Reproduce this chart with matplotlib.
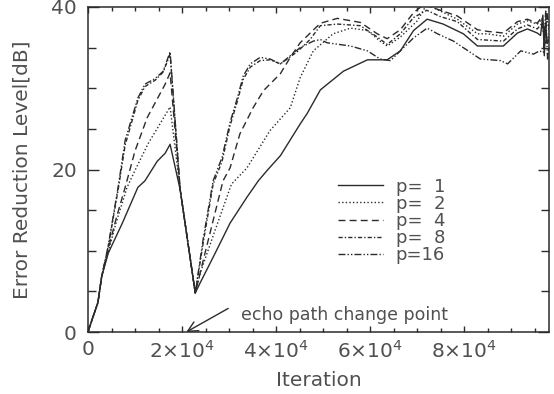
import numpy as np
import matplotlib
matplotlib.use("Agg")
import matplotlib.pyplot as plt
import matplotlib.ticker as ticker

plt.rcParams['font.family'] = ['DejaVu Sans']
plt.rcParams['mathtext.fontset'] = 'dejavusans'

# curves (iteration, dB)
x1 = [0, 850, 2100, 2900, 4300, 7300, 10600, 12100, 14700, 16400, 17450, 19600, 22800, 23800, 26600,
      30200, 33800, 36200, 38100, 40900, 45100, 46600, 49400, 54300, 59400, 63600, 66400, 69200, 72100,
      75500, 79800, 82800, 88300, 91300, 93400, 95500, 96200, 96700, 97000, 97300, 97600, 98000]
y1 = [0, 1.5, 3.6, 6.8, 9.7, 13.4, 17.8, 18.6, 21.0, 22.0, 23.1, 17.5, 4.8, 6.0, 9.2,
      13.4, 16.6, 18.6, 19.9, 21.7, 25.6, 26.9, 29.8, 32.1, 33.5, 33.5, 34.6, 37.1, 38.5,
      37.9, 36.7, 35.2, 35.2, 36.8, 37.3, 36.8, 36.5, 39.0, 34.0, 38.0, 35.5, 36.0]

x2 = [0, 850, 2100, 2900, 4300, 6000, 8300, 10000, 12800, 15700, 17450, 19600, 22800, 24000, 27000,
      30500, 33800, 38700, 43000, 45100, 47900, 52100, 55800, 59400, 62100, 63600, 66400, 70000, 72000,
      74900, 78500, 82800, 84900, 88300, 91300, 93400, 95500, 96500, 97000, 97500, 98000]
y2 = [0, 1.5, 3.6, 6.8, 9.9, 13.5, 17.8, 19.9, 23.2, 26.0, 27.7, 17.5, 4.8, 7.5, 12.5,
      18.2, 20.2, 24.8, 27.6, 31.3, 34.6, 36.7, 37.4, 37.1, 35.8, 35.2, 36.3, 38.3, 40.3,
      39.5, 38.5, 36.7, 36.7, 36.4, 37.9, 38.3, 37.9, 38.5, 36.0, 39.0, 37.0]

x4 = [0, 850, 2100, 2900, 4300, 6000, 7900, 10000, 12600, 16400, 17450, 19600, 22800, 25000, 28700,
      30200, 32300, 35100, 37300, 40900, 43000, 45100, 49400, 53000, 57900, 61500, 63600, 66400, 69200,
      71400, 74900, 78500, 82800, 84900, 88300, 91300, 93400, 95500, 96500, 97000, 97500, 98000]
y4 = [0, 1.5, 3.6, 6.8, 10.2, 14.0, 17.8, 22.3, 26.4, 30.5, 31.9, 17.5, 4.8, 10.0, 18.6,
      20.2, 24.4, 27.6, 29.7, 31.8, 33.8, 35.6, 38.0, 38.6, 38.1, 36.7, 36.1, 37.2, 39.3,
      40.3, 39.6, 38.9, 37.2, 37.0, 36.8, 38.2, 38.5, 38.0, 38.8, 36.5, 39.5, 37.5]

x8 = [0, 850, 2100, 2900, 4300, 6400, 7900, 10600, 12100, 14300, 16000, 17450, 19600, 22800, 24500,
      26600, 28500, 30200, 31700, 33000, 34500, 36600, 38700, 40900, 44500, 47200, 49400, 53000, 57900,
      61500, 63600, 66400, 69200, 72000, 75000, 78500, 82800, 88300, 91300, 93400, 95500, 96500, 97200, 98000]
y8 = [0, 1.5, 3.6, 6.8, 10.5, 17.5, 23.0, 28.5, 30.2, 31.0, 32.0, 34.2, 17.5, 4.8, 11.0,
      18.2, 21.0, 25.4, 28.3, 31.1, 32.6, 33.4, 33.5, 33.0, 34.5, 36.0, 37.7, 37.9, 37.7,
      36.3, 35.4, 36.7, 38.7, 39.6, 38.8, 38.2, 36.0, 35.8, 37.3, 37.8, 37.3, 38.0, 35.5, 36.5]

x16 = [0, 850, 2100, 2900, 4300, 6400, 7900, 10600, 12100, 14300, 16000, 17450, 19600, 22800, 24500,
       26600, 28500, 30200, 31700, 33000, 34500, 36600, 38700, 40900, 43000, 45100, 47900, 49400, 50800,
       55800, 59400, 62100, 64300, 66400, 69200, 72100, 74300, 77700, 83400, 87700, 89200, 92000, 94700,
       96000, 96800, 97300, 97700, 98000]
y16 = [0, 1.5, 3.6, 6.8, 10.6, 17.8, 23.6, 28.8, 30.5, 31.2, 32.1, 34.5, 17.5, 4.8, 11.5,
       18.6, 21.5, 25.8, 28.7, 31.5, 33.0, 33.8, 33.6, 33.0, 34.0, 35.0, 35.8, 36.0, 35.6,
       35.2, 34.6, 33.6, 33.4, 34.6, 36.2, 37.4, 36.7, 35.8, 33.6, 33.4, 33.0, 34.6, 34.2,
       34.6, 34.4, 39.5, 33.5, 34.8]

labels = ["p=\u20071", "p=\u20072", "p=\u20074", "p=\u20078", "p=16"]
xticks = [0, 20000, 40000, 60000, 80000]
xticklabels = ["0", r"$2{\times}10^{4}$", r"$4{\times}10^{4}$", r"$6{\times}10^{4}$", r"$8{\times}10^{4}$"]
yticks = [0, 20, 40]

ink = "#2b2b2b"
txt = "#505050"

fig = plt.figure(figsize=(5.54, 3.94), dpi=100)
ax = fig.add_axes([88 / 554, 1 - 332 / 394, 461 / 554, 325 / 394])

lw = 1.0
ax.plot(x1, y1, color=ink, lw=lw, linestyle='-', label=labels[0])
ax.plot(x2, y2, color=ink, lw=lw, linestyle=(0, (1, 1.6)), label=labels[1])
ax.plot(x4, y4, color=ink, lw=lw, linestyle=(0, (5, 3)), label=labels[2])
ax.plot(x8, y8, color=ink, lw=lw, linestyle=(0, (3, 1.5, 1, 1.5)), label=labels[3])
ax.plot(x16, y16, color=ink, lw=lw, linestyle=(0, (5, 1.5, 1, 1.5, 1, 1.5)), label=labels[4])

ax.set_xlim(0, 98000)
ax.set_ylim(0, 40)
ax.set_xticks(xticks)
ax.set_xticklabels(xticklabels)
ax.set_yticks(yticks)
ax.xaxis.set_minor_locator(ticker.MultipleLocator(5000))
ax.yaxis.set_minor_locator(ticker.MultipleLocator(5))
ax.tick_params(axis='both', which='both', direction='in', top=True, right=True,
               color=ink, labelcolor=txt, labelsize=14.5, width=1)
ax.tick_params(axis='y', which='major', length=8, pad=8)
ax.tick_params(axis='y', which='minor', length=5.5)
ax.tick_params(axis='x', which='major', length=4.5, pad=6)
ax.tick_params(axis='x', which='minor', length=3)
for s in ax.spines.values():
    s.set_color(ink)
    s.set_linewidth(1.1)

ax.set_xlabel("Iteration", fontsize=14.5, color=txt, labelpad=6)
ax.set_ylabel("Error Reduction Level[dB]", fontsize=14.5, color=txt, labelpad=14)

# arrow to the echo path change point, then its caption
ax.annotate("", xy=(20900, 0), xytext=(29800, 2.9),
            arrowprops=dict(arrowstyle='->', color=ink, lw=1, shrinkA=0, shrinkB=0,
                            mutation_scale=18))
ax.text(32600, 2.1, "echo path change point", fontsize=12.5, color=txt,
        ha='left', va='center')

leg = ax.legend(loc='upper left', bbox_to_anchor=(0.542, 0.475), frameon=False,
                fontsize=13, handlelength=2.5, handletextpad=0.7, labelspacing=-0.05,
                borderpad=0, borderaxespad=0)
for t in leg.get_texts():
    t.set_color(txt)

fig.savefig("out.png", dpi=100)
